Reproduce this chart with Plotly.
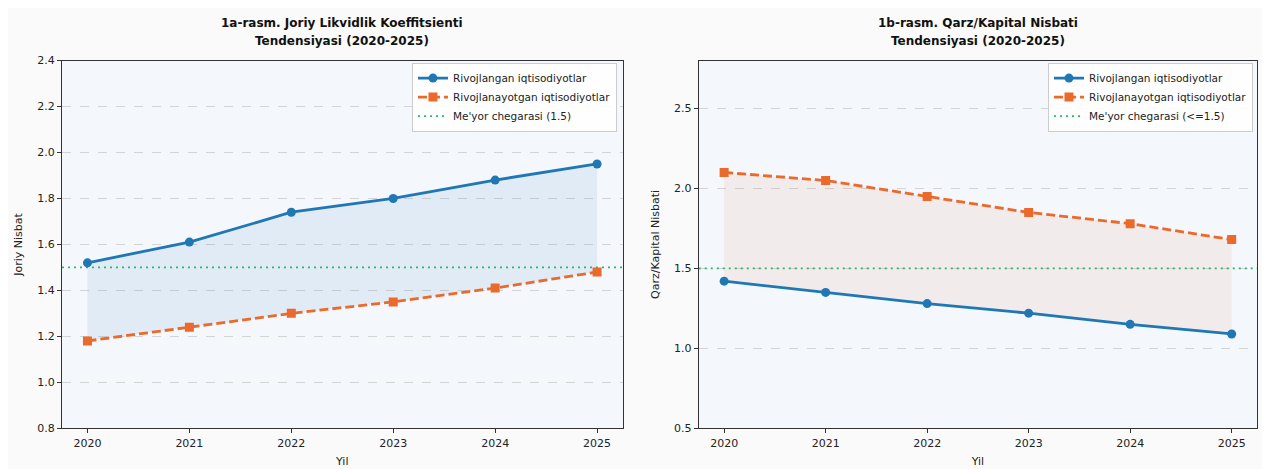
import plotly.graph_objects as go

years = [2020, 2021, 2022, 2023, 2024, 2025]

# Left: current ratio
cr_developed = [1.52, 1.61, 1.74, 1.80, 1.88, 1.95]
cr_developing = [1.18, 1.24, 1.30, 1.35, 1.41, 1.48]
cr_norm = 1.5

# Right: debt/equity
de_developed = [1.42, 1.35, 1.28, 1.22, 1.15, 1.09]
de_developing = [2.10, 2.05, 1.95, 1.85, 1.78, 1.68]
de_norm = 1.5

name_dev = "Rivojlangan iqtisodiyotlar"
name_dvg = "Rivojlanayotgan iqtisodiyotlar"
name_norm_l = "Me'yor chegarasi (1.5)"
name_norm_r = "Me'yor chegarasi (<=1.5)"

title_l = ["1a-rasm. Joriy Likvidlik Koeffitsienti", "Tendensiyasi (2020-2025)"]
title_r = ["1b-rasm. Qarz/Kapital Nisbati", "Tendensiyasi (2020-2025)"]

BLUE = "#1f77b4"
ORANGE = "#ea6a2c"
GREEN = "#2fb56a"
FONT = "DejaVu Sans"

fig = go.Figure()

def add_panel(xa, ya, dev, dvg, norm, norm_name, fillcolor, legend, fill_top_first):
    lower, upper = (dvg, dev) if fill_top_first else (dev, dvg)
    fig.add_trace(go.Scatter(x=years, y=lower, mode="lines", line=dict(width=0, color="rgba(0,0,0,0)"),
                             showlegend=False, hoverinfo="skip", xaxis=xa, yaxis=ya))
    fig.add_trace(go.Scatter(x=years, y=upper, mode="lines", line=dict(width=0, color="rgba(0,0,0,0)"),
                             fill="tonexty", fillcolor=fillcolor,
                             showlegend=False, hoverinfo="skip", xaxis=xa, yaxis=ya))
    fig.add_trace(go.Scatter(x=[2019.75, 2025.25], y=[norm, norm], mode="lines",
                             line=dict(color=GREEN, width=1.6, dash="2px,4px"),
                             name=norm_name, legend=legend, legendrank=3, xaxis=xa, yaxis=ya))
    fig.add_trace(go.Scatter(x=years, y=dev, mode="lines+markers", name=name_dev,
                             line=dict(color=BLUE, width=2.8),
                             marker=dict(symbol="circle", size=9, color=BLUE),
                             legend=legend, legendrank=1, xaxis=xa, yaxis=ya))
    fig.add_trace(go.Scatter(x=years, y=dvg, mode="lines+markers", name=name_dvg,
                             line=dict(color=ORANGE, width=2.8, dash="9px,4px"),
                             marker=dict(symbol="square", size=9, color=ORANGE),
                             legend=legend, legendrank=2, xaxis=xa, yaxis=ya))

add_panel("x", "y", cr_developed, cr_developing, cr_norm, name_norm_l,
          "rgba(31,119,180,0.09)", "legend", True)
add_panel("x2", "y2", de_developed, de_developing, de_norm, name_norm_r,
          "rgba(234,106,44,0.08)", "legend2", False)

axis_common = dict(showline=True, linecolor="#333333", linewidth=1.2, mirror=True,
                   ticks="outside", ticklen=4, tickcolor="#333333",
                   tickfont=dict(family=FONT, size=11, color="#222222"),
                   zeroline=False)

x_common = dict(axis_common, range=[2019.75, 2025.25], tickvals=years, showgrid=False,
                title=dict(text="Yil", font=dict(family=FONT, size=11, color="#222222"), standoff=8))

legend_common = dict(yanchor="top", xanchor="right", traceorder="normal",
                     bgcolor="rgba(255,255,255,0.85)", bordercolor="#cccccc", borderwidth=1,
                     font=dict(family=FONT, size=10.5, color="#222222"), tracegroupgap=0,
                     itemwidth=30)

annotations = []
for cx, lines in ((0.2632, title_l), (0.7637, title_r)):
    for yy, txt in zip((0.981, 0.9418), lines):
        annotations.append(dict(text="<b>" + txt + "</b>", x=cx, y=yy, xref="paper", yref="paper",
                                xanchor="center", yanchor="middle", showarrow=False,
                                font=dict(family=FONT, size=12, color="#111111")))

fig.update_layout(
    width=1270, height=469,
    margin=dict(l=0, r=0, t=0, b=0),
    paper_bgcolor="#fafafa",
    plot_bgcolor="#f4f7fc",
    font=dict(family=FONT, size=11, color="#222222"),
    xaxis=dict(x_common, domain=[0.0425, 0.4839], anchor="y"),
    xaxis2=dict(x_common, domain=[0.5439, 0.9835], anchor="y2"),
    yaxis=dict(axis_common, domain=[0.0915, 0.8979], anchor="x", range=[0.8, 2.4], dtick=0.2,
               tickformat=".1f", showgrid=True, gridcolor="#d4d4d4", griddash="dash", gridwidth=0.8,
               title=dict(text="Joriy Nisbat", font=dict(family=FONT, size=11), standoff=12)),
    yaxis2=dict(axis_common, domain=[0.0915, 0.8979], anchor="x2", range=[0.5, 2.8], dtick=0.5,
                tickformat=".1f", showgrid=True, gridcolor="#d4d4d4", griddash="dash", gridwidth=0.8,
                title=dict(text="Qarz/Kapital Nisbati", font=dict(family=FONT, size=11), standoff=12)),
    legend=dict(legend_common, x=0.4795, y=0.8934),
    legend2=dict(legend_common, x=0.9803, y=0.8934),
    annotations=annotations,
)

fig.write_html("out.html")
